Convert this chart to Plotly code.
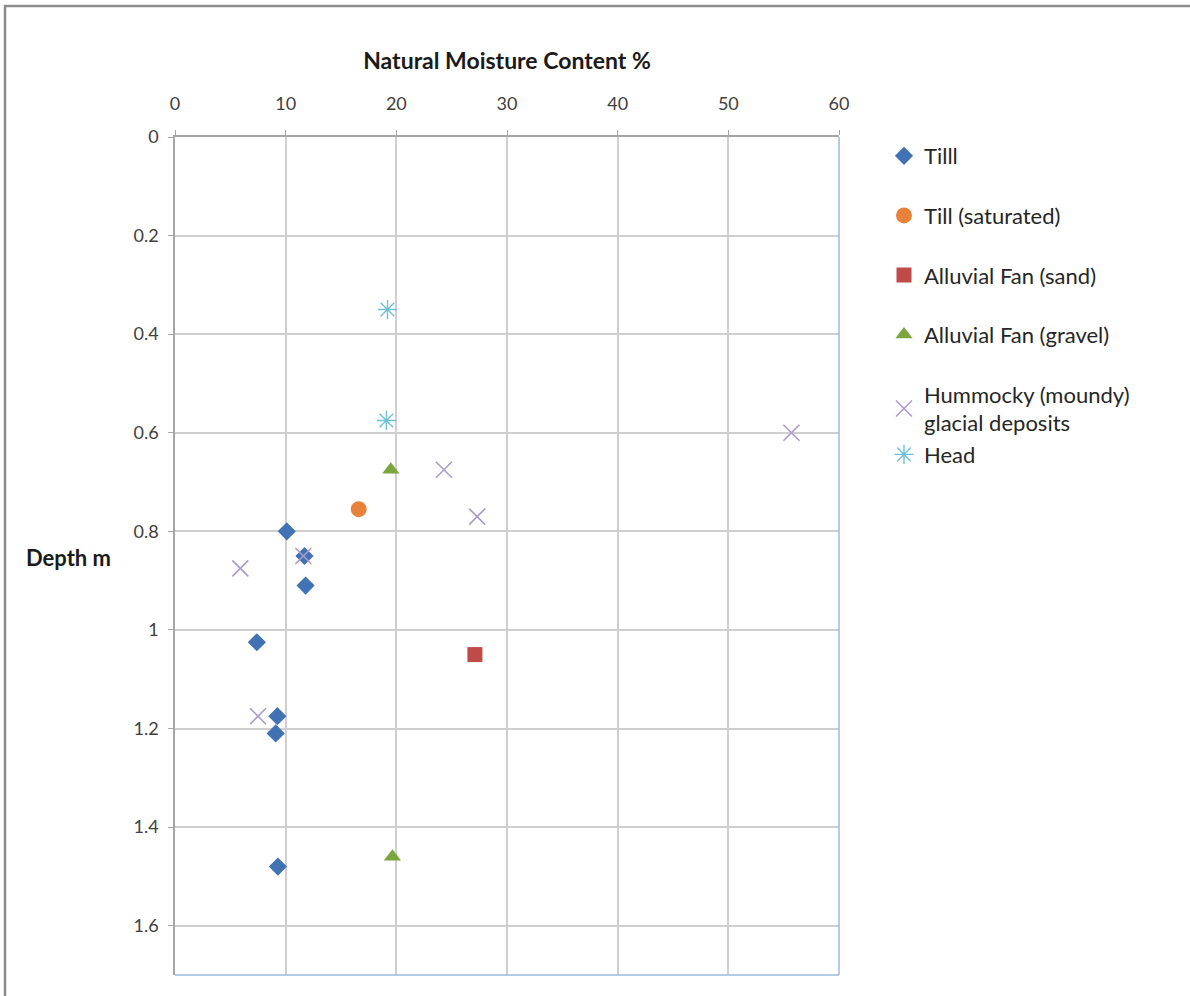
import plotly.graph_objects as go

# Data (moisture %, depth m)
till_x = [10.1, 11.7, 11.8, 7.4, 9.25, 9.1, 9.3]
till_y = [0.80, 0.85, 0.91, 1.025, 1.175, 1.21, 1.48]
till_sat_x = [16.6]
till_sat_y = [0.755]
fan_sand_x = [27.1]
fan_sand_y = [1.05]
fan_gravel_x = [19.5, 19.65]
fan_gravel_y = [0.675, 1.46]
hummocky_x = [55.7, 24.3, 27.3, 11.6, 5.9, 7.5]
hummocky_y = [0.60, 0.675, 0.77, 0.85, 0.875, 1.175]
head_x = [19.2, 19.1]
head_y = [0.35, 0.575]

x_ticks = [0, 10, 20, 30, 40, 50, 60]
y_ticks = [0, 0.2, 0.4, 0.6, 0.8, 1, 1.2, 1.4, 1.6]

FONT = "Lato, 'Open Sans', sans-serif"
fig = go.Figure()

series = [
    ("Tilll", till_x, till_y, dict(symbol="diamond", size=14, color="#4172B4"), "g1"),
    ("Till (saturated)", till_sat_x, till_sat_y, dict(symbol="circle", size=16, color="#E8823A"), "g2"),
    ("Alluvial Fan (sand)", fan_sand_x, fan_sand_y, dict(symbol="square", size=15, color="#BE4B48"), "g3"),
    ("Alluvial Fan (gravel)", fan_gravel_x, fan_gravel_y, dict(symbol="triangle-up", size=15, color="#7BA63F"), "g4"),
    ("Hummocky (moundy)<br>glacial deposits", hummocky_x, hummocky_y,
     dict(symbol="x-thin-open", size=16, color="#A99BC9", line=dict(width=1.6, color="#A99BC9")), "g5"),
    ("Head", head_x, head_y,
     dict(symbol="asterisk-open", size=16, color="#6FC0D4", line=dict(width=1.4, color="#6FC0D4")), "g5"),
]
for name, xs, ys, mk, grp in series:
    fig.add_trace(go.Scatter(x=xs, y=ys, mode="markers", name=name, marker=mk,
                             legendgroup=grp, hoverinfo="x+y"))

L, R, T, B = 175, 839, 137, 975
W, H = 1190, 996
pw, ph = R - L, B - T

def px2paper(px, py):
    return (px - L) / pw, (B - py) / ph

# outer chart border
x0, y0 = px2paper(5, 6)
x1, y1 = px2paper(1200, 1005)
fig.add_shape(type="rect", xref="paper", yref="paper", x0=x0, y0=y1, x1=x1, y1=y0,
              line=dict(color="#8C8C8C", width=2.5), layer="above")
# right and bottom plot-area lines (light blue)
fig.add_shape(type="line", xref="paper", yref="paper", x0=1, x1=1, y0=0, y1=1,
              line=dict(color="#9DB9DD", width=1.5))
fig.add_shape(type="line", xref="paper", yref="paper", x0=0, x1=1, y0=0, y1=0,
              line=dict(color="#9DB9DD", width=1.5))

ax, ay = px2paper(68, 557)
fig.add_annotation(text="<b>Depth m</b>", xref="paper", yref="paper", x=ax, y=ay,
                   showarrow=False, xanchor="center", yanchor="middle",
                   font=dict(family=FONT, size=22, color="#1a1a1a"))

lx, ly = px2paper(884, 135)
fig.update_layout(
    width=W, height=H,
    margin=dict(l=L, r=W - R, t=T, b=H - B, autoexpand=False),
    paper_bgcolor="white", plot_bgcolor="white",
    font=dict(family=FONT, size=18, color="#404040"),
    showlegend=True,
    legend=dict(x=lx, y=ly, xanchor="left", yanchor="top",
                font=dict(family=FONT, size=22, color="#262626"),
                tracegroupgap=28, itemsizing="trace", bgcolor="rgba(0,0,0,0)"),
    xaxis=dict(side="top", range=[0, 60], tickvals=x_ticks, showgrid=True,
               gridcolor="#CFCFCF", gridwidth=1.8, showline=True, linecolor="#A6A6A6",
               linewidth=1.5, ticks="outside", ticklen=5, tickcolor="#A6A6A6",
               zeroline=False, tickfont=dict(size=18, color="#404040"), ticklabelstandoff=13,
               title=dict(text="<b>Natural Moisture Content %</b>", standoff=16,
                          font=dict(family=FONT, size=23, color="#1a1a1a"))),
    yaxis=dict(range=[1.7, 0], tickvals=y_ticks, showgrid=True,
               gridcolor="#CFCFCF", gridwidth=1.8, showline=True, linecolor="#A6A6A6",
               linewidth=1.5, ticks="outside", ticklen=5, tickcolor="#A6A6A6",
               zeroline=False, tickfont=dict(size=18, color="#404040"), ticklabelstandoff=6),
)

fig.write_html("out.html", config={"displayModeBar": False},
               post_script="document.body.style.margin='0';")
